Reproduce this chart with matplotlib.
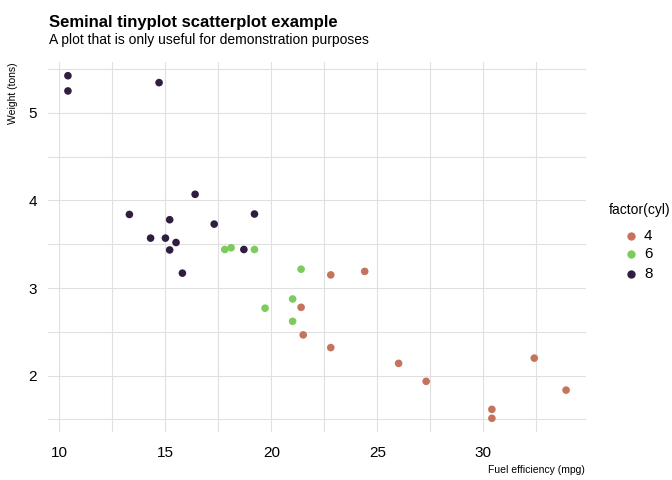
import numpy as np
import matplotlib.pyplot as plt
from matplotlib import font_manager

# mtcars: mpg, wt, cyl
mpg = [21.0, 21.0, 22.8, 21.4, 18.7, 18.1, 14.3, 24.4, 22.8, 19.2, 17.8,
       16.4, 17.3, 15.2, 10.4, 10.4, 14.7, 32.4, 30.4, 33.9, 21.5, 15.5,
       15.2, 13.3, 19.2, 27.3, 26.0, 30.4, 15.8, 19.7, 15.0, 21.4]
wt = [2.620, 2.875, 2.320, 3.215, 3.440, 3.460, 3.570, 3.190, 3.150, 3.440,
      3.440, 4.070, 3.730, 3.780, 5.250, 5.424, 5.345, 2.200, 1.615, 1.835,
      2.465, 3.520, 3.435, 3.840, 3.845, 1.935, 2.140, 1.513, 3.170, 2.770,
      3.570, 2.780]
cyl = [6, 6, 4, 6, 8, 6, 8, 4, 4, 6, 6, 8, 8, 8, 8, 8, 8, 4, 4, 4, 4, 8,
       8, 8, 8, 4, 4, 4, 8, 6, 8, 4]
levels = [4, 6, 8]
colors = ['#C6735E', '#7CCB5C', '#2F1E3F']

names = {f.name for f in font_manager.fontManager.ttflist}
fam = 'Liberation Sans Narrow' if 'Liberation Sans Narrow' in names else 'Liberation Sans'
plt.rcParams['font.family'] = [fam, 'DejaVu Sans']

mpg = np.array(mpg)
wt = np.array(wt)
cyl = np.array(cyl)

W, H = 672, 480
fig = plt.figure(figsize=(W / 100, H / 100), dpi=100)
# panel in pixel coords: x 48..586, y 62..432
ax = fig.add_axes([48 / W, 1 - 432 / H, (586 - 48) / W, (432 - 62) / H])

for lev, col in zip(levels, colors):
    m = cyl == lev
    ax.scatter(mpg[m], wt[m], s=30, color=col, edgecolors='none', zorder=3)

# base R style 4% range expansion
xr = mpg.max() - mpg.min()
yr = wt.max() - wt.min()
ax.set_xlim(mpg.min() - 0.04 * xr, mpg.max() + 0.04 * xr)
ax.set_ylim(wt.min() - 0.04 * yr, wt.max() + 0.04 * yr)

gc = '#E0E0E0'
for gx in np.arange(10, 34, 2.5):
    ax.axvline(gx, color=gc, lw=0.8, zorder=1)
for gy in np.arange(1.5, 5.6, 0.5):
    ax.axhline(gy, color=gc, lw=0.8, zorder=1)

ax.set_xticks([10, 15, 20, 25, 30])
ax.set_yticks([2, 3, 4, 5])
ax.tick_params(length=0, labelsize=11)
ax.tick_params(axis='x', pad=10)
ax.tick_params(axis='y', pad=8)
for s in ax.spines.values():
    s.set_visible(False)

fig.text(49 / W, 1 - 22 / H, 'Seminal tinyplot scatterplot example',
         fontsize=12, fontweight='bold', va='center', ha='left')
fig.text(49 / W, 1 - 40 / H, 'A plot that is only useful for demonstration purposes',
         fontsize=10, va='center', ha='left')
fig.text(13 / W, 1 - 62 / H, 'Weight (tons)', rotation=90, fontsize=7.5,
         va='top', ha='center')
fig.text(585 / W, 1 - 470 / H, 'Fuel efficiency (mpg)', fontsize=7.5,
         va='center', ha='right')

# legend
fig.text(609 / W, 1 - 210 / H, 'factor(cyl)', fontsize=10, va='center', ha='left')
for i, (lev, col) in enumerate(zip(levels, colors)):
    yy = 1 - (235.5 + 19 * i) / H
    fig.lines.append(plt.Line2D([631 / W], [yy], marker='o', ms=6, color=col,
                                mec='none', transform=fig.transFigure))
    fig.text(644 / W, yy, str(lev), fontsize=11, va='center', ha='left')

fig.savefig('out.png', dpi=100)
